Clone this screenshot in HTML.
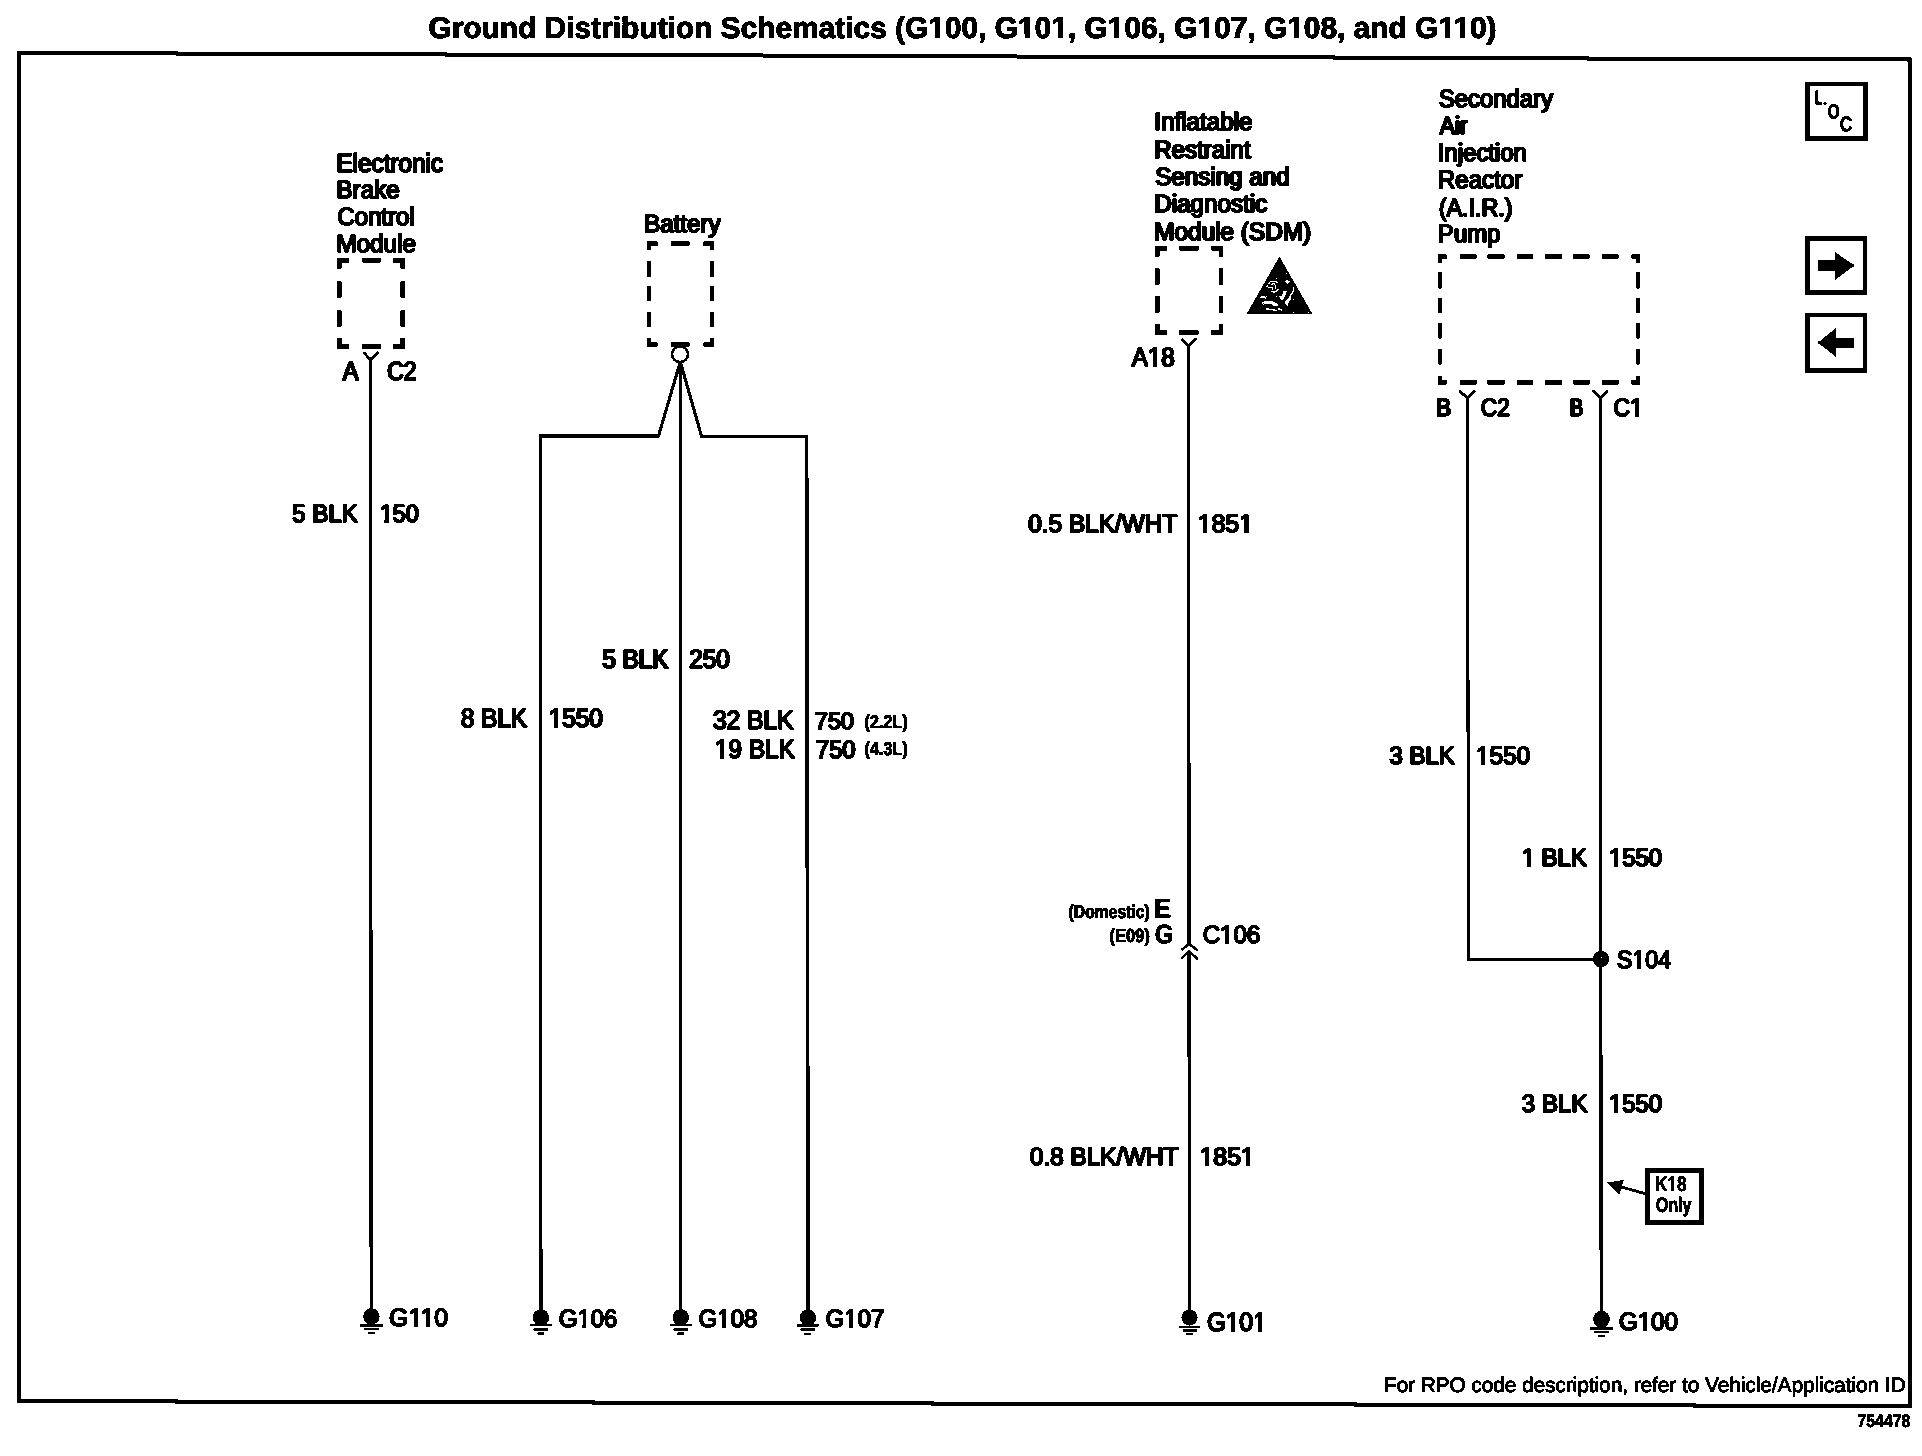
<!DOCTYPE html>
<html><head><meta charset="utf-8"><title>Ground Distribution Schematics</title>
<style>
html,body{margin:0;padding:0;background:#fff;}
body{width:1922px;height:1456px;overflow:hidden;font-family:"Liberation Sans",sans-serif;}
svg{display:block;position:absolute;left:0;top:0}
svg text{font-family:"Liberation Sans",sans-serif;fill:#000;stroke:#000;stroke-linejoin:round;text-rendering:geometricPrecision;}
</style></head><body>
<svg width="1922" height="1456" viewBox="0 0 1922 1456">
<defs><filter id="bw" x="0" y="0" width="1922" height="1456" filterUnits="userSpaceOnUse" color-interpolation-filters="sRGB">
<feColorMatrix type="matrix" values="0.33 0.34 0.33 0 0  0.33 0.34 0.33 0 0  0.33 0.34 0.33 0 0  0 0 0 1 0"/>
<feComponentTransfer><feFuncR type="discrete" tableValues="0 1"/><feFuncG type="discrete" tableValues="0 1"/><feFuncB type="discrete" tableValues="0 1"/></feComponentTransfer>
</filter></defs>
<rect x="0" y="0" width="1922" height="1456" fill="#fff" stroke="none"/>
<g filter="url(#bw)" stroke="#000">
<rect x="0" y="0" width="1922" height="1456" fill="#fff" stroke="none"/>
<path d="M19 53 L1909.6 59.6 L1909.9 1406 L19 1401 Z" stroke-width="4" fill="none" stroke-linejoin="miter"/>
<g font-weight="bold" font-size="30" stroke-width="0.5"><text x="428.25" y="38.00" textLength="1068.08" lengthAdjust="spacingAndGlyphs">Ground Distribution Schematics (G100, G101, G106, G107, G108, and G110)</text><text x="428.65" y="38.00" textLength="1068.08" lengthAdjust="spacingAndGlyphs">Ground Distribution Schematics (G100, G101, G106, G107, G108, and G110)</text></g><rect x="929.39" y="34.25" width="5.48" height="4.70" fill="#fff" stroke="none"/><rect x="939.81" y="34.25" width="5.18" height="4.70" fill="#fff" stroke="none"/><rect x="1019.12" y="34.25" width="5.48" height="4.70" fill="#fff" stroke="none"/><rect x="1029.53" y="34.25" width="5.18" height="4.70" fill="#fff" stroke="none"/><rect x="1052.36" y="34.25" width="5.48" height="4.70" fill="#fff" stroke="none"/><rect x="1062.78" y="34.25" width="5.18" height="4.70" fill="#fff" stroke="none"/><rect x="1108.84" y="34.25" width="5.48" height="4.70" fill="#fff" stroke="none"/><rect x="1119.26" y="34.25" width="5.18" height="4.70" fill="#fff" stroke="none"/><rect x="1198.57" y="34.25" width="5.48" height="4.70" fill="#fff" stroke="none"/><rect x="1208.98" y="34.25" width="5.18" height="4.70" fill="#fff" stroke="none"/><rect x="1288.29" y="34.25" width="5.48" height="4.70" fill="#fff" stroke="none"/><rect x="1298.71" y="34.25" width="5.18" height="4.70" fill="#fff" stroke="none"/><rect x="1439.46" y="34.25" width="5.48" height="4.70" fill="#fff" stroke="none"/><rect x="1449.87" y="34.25" width="5.18" height="4.70" fill="#fff" stroke="none"/><rect x="1454.43" y="34.25" width="5.48" height="4.70" fill="#fff" stroke="none"/><rect x="1464.85" y="34.25" width="5.18" height="4.70" fill="#fff" stroke="none"/>
<g font-size="26.45" stroke-width="1.3"><text x="336.01" y="172.00" textLength="106.64" lengthAdjust="spacingAndGlyphs">Electronic</text><text x="336.91" y="172.00" textLength="106.64" lengthAdjust="spacingAndGlyphs">Electronic</text></g>
<g font-size="25.0" stroke-width="1.3"><text x="335.91" y="198.00" textLength="63.32" lengthAdjust="spacingAndGlyphs">Brake</text><text x="336.81" y="198.00" textLength="63.32" lengthAdjust="spacingAndGlyphs">Brake</text></g>
<g font-size="25.0" stroke-width="1.3"><text x="336.89" y="225.00" textLength="77.25" lengthAdjust="spacingAndGlyphs">Control</text><text x="337.79" y="225.00" textLength="77.25" lengthAdjust="spacingAndGlyphs">Control</text></g>
<g font-size="25.0" stroke-width="1.3"><text x="335.91" y="252.00" textLength="79.62" lengthAdjust="spacingAndGlyphs">Module</text><text x="336.81" y="252.00" textLength="79.62" lengthAdjust="spacingAndGlyphs">Module</text></g>
<rect x="337.00" y="258.00" width="12.00" height="4.60" fill="#000" stroke="none"/>
<rect x="337.00" y="258.00" width="4.50" height="10.80" fill="#000" stroke="none"/>
<rect x="337.00" y="344.20" width="12.00" height="4.60" fill="#000" stroke="none"/>
<rect x="337.00" y="338.00" width="4.50" height="10.80" fill="#000" stroke="none"/>
<rect x="393.00" y="258.00" width="12.00" height="4.60" fill="#000" stroke="none"/>
<rect x="400.50" y="258.00" width="4.50" height="10.80" fill="#000" stroke="none"/>
<rect x="393.00" y="344.20" width="12.00" height="4.60" fill="#000" stroke="none"/>
<rect x="400.50" y="338.00" width="4.50" height="10.80" fill="#000" stroke="none"/>
<rect x="362.20" y="258.00" width="18.60" height="4.60" fill="#000" stroke="none"/>
<rect x="362.20" y="344.20" width="18.60" height="4.60" fill="#000" stroke="none"/>
<rect x="337.00" y="281.20" width="4.50" height="16.60" fill="#000" stroke="none"/>
<rect x="400.50" y="281.20" width="4.50" height="16.60" fill="#000" stroke="none"/>
<rect x="337.00" y="310.20" width="4.50" height="16.40" fill="#000" stroke="none"/>
<rect x="400.50" y="310.20" width="4.50" height="16.40" fill="#000" stroke="none"/>
<path d="M363.4 352.3 L370.4 359.6 L378.6 352.3" stroke-width="2.8" fill="none"/>
<line x1="370.40" y1="359.00" x2="371.20" y2="1316.00" stroke-width="3.2" stroke-linecap="butt"/>
<g font-size="26.45" stroke-width="1.3"><text x="342.35" y="380.00" textLength="15.77" lengthAdjust="spacingAndGlyphs">A</text><text x="343.25" y="380.00" textLength="15.77" lengthAdjust="spacingAndGlyphs">A</text></g>
<g font-size="26.45" stroke-width="1.3"><text x="386.78" y="380.00" textLength="29.28" lengthAdjust="spacingAndGlyphs">C2</text><text x="387.68" y="380.00" textLength="29.28" lengthAdjust="spacingAndGlyphs">C2</text></g>
<g font-size="25.0" stroke-width="1.3"><text x="291.79" y="522.00" textLength="65.55" lengthAdjust="spacingAndGlyphs">5 BLK</text><text x="292.59" y="522.00" textLength="65.55" lengthAdjust="spacingAndGlyphs">5 BLK</text></g>
<g font-size="25.0" stroke-width="1.3"><text x="379.22" y="522.00" textLength="39.18" lengthAdjust="spacingAndGlyphs">150</text><text x="380.02" y="522.00" textLength="39.18" lengthAdjust="spacingAndGlyphs">150</text></g><rect x="379.93" y="518.98" width="4.51" height="4.38" fill="#fff" stroke="none"/><rect x="388.65" y="518.98" width="4.27" height="4.38" fill="#fff" stroke="none"/>
<circle cx="371.40" cy="1316.50" r="8.2" fill="#000" stroke="none"/>
<rect x="360.10" y="1323.90" width="22.60" height="3.00" fill="#000" stroke="none"/>
<rect x="363.80" y="1328.20" width="15.20" height="2.20" fill="#000" stroke="none"/>
<rect x="368.20" y="1332.10" width="6.40" height="2.10" fill="#000" stroke="none"/>
<g font-size="25.0" stroke-width="1.3"><text x="388.65" y="1326.00" textLength="59.10" lengthAdjust="spacingAndGlyphs">G110</text><text x="389.25" y="1326.00" textLength="59.10" lengthAdjust="spacingAndGlyphs">G110</text></g><rect x="408.85" y="1322.97" width="4.76" height="4.38" fill="#fff" stroke="none"/><rect x="417.75" y="1322.97" width="4.51" height="4.38" fill="#fff" stroke="none"/><rect x="420.86" y="1322.97" width="4.76" height="4.38" fill="#fff" stroke="none"/><rect x="429.76" y="1322.97" width="4.51" height="4.38" fill="#fff" stroke="none"/>
<g font-size="25.0" stroke-width="1.3"><text x="643.72" y="232.00" textLength="76.45" lengthAdjust="spacingAndGlyphs">Battery</text><text x="644.62" y="232.00" textLength="76.45" lengthAdjust="spacingAndGlyphs">Battery</text></g>
<rect x="647.00" y="241.50" width="10.60" height="4.40" fill="#000" stroke="none"/>
<rect x="647.00" y="241.50" width="4.00" height="8.80" fill="#000" stroke="none"/>
<rect x="647.00" y="342.30" width="10.60" height="4.40" fill="#000" stroke="none"/>
<rect x="647.00" y="337.90" width="4.00" height="8.80" fill="#000" stroke="none"/>
<rect x="703.30" y="241.50" width="10.60" height="4.40" fill="#000" stroke="none"/>
<rect x="709.90" y="241.50" width="4.00" height="8.80" fill="#000" stroke="none"/>
<rect x="703.30" y="342.30" width="10.60" height="4.40" fill="#000" stroke="none"/>
<rect x="709.90" y="337.90" width="4.00" height="8.80" fill="#000" stroke="none"/>
<rect x="670.80" y="241.50" width="18.70" height="4.40" fill="#000" stroke="none"/>
<rect x="670.80" y="342.30" width="18.70" height="4.40" fill="#000" stroke="none"/>
<rect x="647.00" y="260.80" width="4.00" height="15.90" fill="#000" stroke="none"/>
<rect x="709.90" y="260.80" width="4.00" height="15.90" fill="#000" stroke="none"/>
<rect x="647.00" y="285.80" width="4.00" height="15.40" fill="#000" stroke="none"/>
<rect x="709.90" y="285.80" width="4.00" height="15.40" fill="#000" stroke="none"/>
<rect x="647.00" y="312.00" width="4.00" height="14.70" fill="#000" stroke="none"/>
<rect x="709.90" y="312.00" width="4.00" height="14.70" fill="#000" stroke="none"/>
<circle cx="680" cy="354.2" r="7.9" fill="#fff" stroke-width="2.6"/>
<line x1="680.20" y1="362.50" x2="680.70" y2="1317.00" stroke-width="3.2" stroke-linecap="butt"/>
<path d="M541 1317 L540.4 435.7 L658.5 436 L679.6 364 M681 364 L701.5 436.2 L806.6 436.6" stroke-width="3.1" fill="none" stroke-linejoin="miter"/>
<line x1="806.60" y1="435.10" x2="808.10" y2="1317.00" stroke-width="3.6" stroke-linecap="butt"/>
<g font-size="26.45" stroke-width="1.3"><text x="601.84" y="668.00" textLength="65.88" lengthAdjust="spacingAndGlyphs">5 BLK</text><text x="603.04" y="668.00" textLength="65.88" lengthAdjust="spacingAndGlyphs">5 BLK</text></g>
<g font-size="26.45" stroke-width="1.3"><text x="688.83" y="668.00" textLength="40.46" lengthAdjust="spacingAndGlyphs">250</text><text x="689.83" y="668.00" textLength="40.46" lengthAdjust="spacingAndGlyphs">250</text></g>
<g font-size="26.45" stroke-width="1.3"><text x="460.53" y="727.00" textLength="65.98" lengthAdjust="spacingAndGlyphs">8 BLK</text><text x="461.33" y="727.00" textLength="65.98" lengthAdjust="spacingAndGlyphs">8 BLK</text></g>
<g font-size="26.45" stroke-width="1.3"><text x="548.34" y="727.00" textLength="54.06" lengthAdjust="spacingAndGlyphs">1550</text><text x="549.14" y="727.00" textLength="54.06" lengthAdjust="spacingAndGlyphs">1550</text></g><rect x="549.11" y="723.87" width="4.65" height="4.48" fill="#fff" stroke="none"/><rect x="558.06" y="723.87" width="4.41" height="4.48" fill="#fff" stroke="none"/>
<g font-size="26.45" stroke-width="1.3"><text x="712.62" y="729.00" textLength="80.49" lengthAdjust="spacingAndGlyphs">32 BLK</text><text x="713.42" y="729.00" textLength="80.49" lengthAdjust="spacingAndGlyphs">32 BLK</text></g>
<g font-size="23.55" stroke-width="1.3"><text x="814.56" y="729.00" textLength="38.99" lengthAdjust="spacingAndGlyphs">750</text><text x="815.36" y="729.00" textLength="38.99" lengthAdjust="spacingAndGlyphs">750</text></g>
<g font-weight="bold" font-size="18.6" stroke-width="0.5"><text x="864.35" y="728.00" textLength="43.37" lengthAdjust="spacingAndGlyphs">(2.2L)</text><text x="864.65" y="728.00" textLength="43.37" lengthAdjust="spacingAndGlyphs">(2.2L)</text></g>
<g font-size="26.45" stroke-width="1.3"><text x="714.54" y="758.00" textLength="79.88" lengthAdjust="spacingAndGlyphs">19 BLK</text><text x="715.34" y="758.00" textLength="79.88" lengthAdjust="spacingAndGlyphs">19 BLK</text></g><rect x="715.31" y="754.87" width="4.66" height="4.48" fill="#fff" stroke="none"/><rect x="724.27" y="754.87" width="4.42" height="4.48" fill="#fff" stroke="none"/>
<g font-size="25.0" stroke-width="1.3"><text x="815.40" y="758.00" textLength="39.71" lengthAdjust="spacingAndGlyphs">750</text><text x="816.20" y="758.00" textLength="39.71" lengthAdjust="spacingAndGlyphs">750</text></g>
<g font-weight="bold" font-size="18.6" stroke-width="0.5"><text x="864.35" y="755.00" textLength="43.37" lengthAdjust="spacingAndGlyphs">(4.3L)</text><text x="864.65" y="755.00" textLength="43.37" lengthAdjust="spacingAndGlyphs">(4.3L)</text></g>
<circle cx="540.90" cy="1317.40" r="8.2" fill="#000" stroke="none"/>
<rect x="529.90" y="1324.20" width="22.00" height="2.20" fill="#000" stroke="none"/>
<rect x="533.30" y="1328.40" width="15.00" height="2.20" fill="#000" stroke="none"/>
<rect x="537.30" y="1332.50" width="6.80" height="2.20" fill="#000" stroke="none"/>
<g font-size="25.0" stroke-width="1.3"><text x="558.60" y="1327.00" textLength="58.32" lengthAdjust="spacingAndGlyphs">G106</text><text x="559.20" y="1327.00" textLength="58.32" lengthAdjust="spacingAndGlyphs">G106</text></g><rect x="577.88" y="1323.97" width="4.57" height="4.38" fill="#fff" stroke="none"/><rect x="586.49" y="1323.97" width="4.33" height="4.38" fill="#fff" stroke="none"/>
<circle cx="680.80" cy="1317.40" r="8.2" fill="#000" stroke="none"/>
<rect x="669.80" y="1324.20" width="22.00" height="2.20" fill="#000" stroke="none"/>
<rect x="673.20" y="1328.40" width="15.00" height="2.20" fill="#000" stroke="none"/>
<rect x="677.20" y="1332.50" width="6.80" height="2.20" fill="#000" stroke="none"/>
<g font-size="25.0" stroke-width="1.3"><text x="698.19" y="1327.00" textLength="58.93" lengthAdjust="spacingAndGlyphs">G108</text><text x="698.79" y="1327.00" textLength="58.93" lengthAdjust="spacingAndGlyphs">G108</text></g><rect x="717.68" y="1323.97" width="4.62" height="4.38" fill="#fff" stroke="none"/><rect x="726.37" y="1323.97" width="4.38" height="4.38" fill="#fff" stroke="none"/>
<circle cx="807.90" cy="1317.50" r="8.2" fill="#000" stroke="none"/>
<rect x="796.90" y="1324.30" width="22.00" height="2.20" fill="#000" stroke="none"/>
<rect x="800.30" y="1328.50" width="15.00" height="2.20" fill="#000" stroke="none"/>
<rect x="804.30" y="1332.60" width="6.80" height="2.20" fill="#000" stroke="none"/>
<g font-size="25.0" stroke-width="1.3"><text x="825.29" y="1327.00" textLength="58.73" lengthAdjust="spacingAndGlyphs">G107</text><text x="825.89" y="1327.00" textLength="58.73" lengthAdjust="spacingAndGlyphs">G107</text></g><rect x="844.71" y="1323.97" width="4.60" height="4.38" fill="#fff" stroke="none"/><rect x="853.38" y="1323.97" width="4.36" height="4.38" fill="#fff" stroke="none"/>
<g font-size="25.0" stroke-width="1.3"><text x="1153.71" y="130.00" textLength="98.21" lengthAdjust="spacingAndGlyphs">Inflatable</text><text x="1154.81" y="130.00" textLength="98.21" lengthAdjust="spacingAndGlyphs">Inflatable</text></g>
<g font-size="25.0" stroke-width="1.3"><text x="1153.72" y="158.00" textLength="96.37" lengthAdjust="spacingAndGlyphs">Restraint</text><text x="1154.82" y="158.00" textLength="96.37" lengthAdjust="spacingAndGlyphs">Restraint</text></g>
<g font-size="25.0" stroke-width="1.3"><text x="1154.68" y="185.00" textLength="134.44" lengthAdjust="spacingAndGlyphs">Sensing and</text><text x="1155.78" y="185.00" textLength="134.44" lengthAdjust="spacingAndGlyphs">Sensing and</text></g>
<g font-size="25.0" stroke-width="1.3"><text x="1153.71" y="212.00" textLength="113.02" lengthAdjust="spacingAndGlyphs">Diagnostic</text><text x="1154.81" y="212.00" textLength="113.02" lengthAdjust="spacingAndGlyphs">Diagnostic</text></g>
<g font-size="25.0" stroke-width="1.3"><text x="1153.70" y="240.00" textLength="156.84" lengthAdjust="spacingAndGlyphs">Module (SDM)</text><text x="1154.80" y="240.00" textLength="156.84" lengthAdjust="spacingAndGlyphs">Module (SDM)</text></g>
<rect x="1155.00" y="246.00" width="11.90" height="4.60" fill="#000" stroke="none"/>
<rect x="1155.00" y="246.00" width="4.50" height="10.90" fill="#000" stroke="none"/>
<rect x="1155.00" y="330.20" width="11.90" height="4.60" fill="#000" stroke="none"/>
<rect x="1155.00" y="323.90" width="4.50" height="10.90" fill="#000" stroke="none"/>
<rect x="1211.20" y="246.00" width="11.90" height="4.60" fill="#000" stroke="none"/>
<rect x="1218.60" y="246.00" width="4.50" height="10.90" fill="#000" stroke="none"/>
<rect x="1211.20" y="330.20" width="11.90" height="4.60" fill="#000" stroke="none"/>
<rect x="1218.60" y="323.90" width="4.50" height="10.90" fill="#000" stroke="none"/>
<rect x="1179.20" y="246.00" width="19.40" height="4.60" fill="#000" stroke="none"/>
<rect x="1179.20" y="330.20" width="19.40" height="4.60" fill="#000" stroke="none"/>
<rect x="1155.00" y="268.10" width="4.50" height="16.70" fill="#000" stroke="none"/>
<rect x="1218.60" y="268.10" width="4.50" height="16.70" fill="#000" stroke="none"/>
<rect x="1155.00" y="296.00" width="4.50" height="16.80" fill="#000" stroke="none"/>
<rect x="1218.60" y="296.00" width="4.50" height="16.80" fill="#000" stroke="none"/>
<path d="M1181.2 339 L1188.7 345.8 L1196.8 338.3" stroke-width="2.8" fill="none"/>
<line x1="1188.60" y1="345.00" x2="1189.00" y2="944.50" stroke-width="3.2" stroke-linecap="butt"/>
<line x1="1189.00" y1="951.50" x2="1189.05" y2="1010.00" stroke-width="3.8" stroke-linecap="butt"/>
<line x1="1189.05" y1="1010.00" x2="1189.60" y2="1318.00" stroke-width="3.2" stroke-linecap="butt"/>
<g font-size="26.45" stroke-width="1.3"><text x="1131.45" y="366.00" textLength="42.64" lengthAdjust="spacingAndGlyphs">A18</text><text x="1132.35" y="366.00" textLength="42.64" lengthAdjust="spacingAndGlyphs">A18</text></g><rect x="1148.18" y="362.87" width="4.60" height="4.48" fill="#fff" stroke="none"/><rect x="1157.13" y="362.87" width="4.36" height="4.48" fill="#fff" stroke="none"/>
<path d="M1279.4 256.6 L1312.5 314 L1246.6 314 Z" stroke-width="0" fill="#000"/>
<polyline points="1268.85,283.65 1270.29,281.49 1275.82,281.49 1277.02,282.79" fill="none" stroke="#fff" stroke-linecap="round" stroke-linejoin="round" stroke-width="1.25"/>
<polygon points="1266.11,286.39 1268.46,283.89 1268.46,287.98" fill="#fff" stroke="none"/>
<polyline points="1271.49,284.52 1273.65,283.51 1275.48,285.58 1275.82,288.08" fill="none" stroke="#fff" stroke-linecap="round" stroke-linejoin="round" stroke-width="1.25"/>
<polyline points="1269.18,287.12 1272.69,287.36 1272.69,289.90" fill="none" stroke="#fff" stroke-linecap="round" stroke-linejoin="round" stroke-width="1.25"/>
<polyline points="1271.15,291.35 1274.62,292.31 1276.78,290.62 1277.98,289.52" fill="none" stroke="#fff" stroke-linecap="round" stroke-linejoin="round" stroke-width="1.3"/>
<polygon points="1284.95,282.12 1286.88,279.90 1290.00,281.49 1287.60,284.04" fill="#fff" stroke="none"/>
<circle cx="1286.39" cy="273.56" r="0.75" fill="#fff" stroke="none"/>
<circle cx="1276.44" cy="278.51" r="0.75" fill="#fff" stroke="none"/>
<circle cx="1276.44" cy="296.54" r="0.75" fill="#fff" stroke="none"/>
<circle cx="1293.46" cy="299.42" r="0.75" fill="#fff" stroke="none"/>
<circle cx="1293.46" cy="312.50" r="0.75" fill="#fff" stroke="none"/>
<circle cx="1308.51" cy="312.50" r="0.75" fill="#fff" stroke="none"/>
<circle cx="1266.44" cy="296.44" r="0.75" fill="#fff" stroke="none"/>
<polygon points="1283.27,291.01 1287.21,291.01 1282.88,300.10 1281.11,300.10 1279.04,296.44 1281.83,295.67" fill="#fff" stroke="none"/>
<polyline points="1293.61,287.12 1293.61,290.38 1292.02,293.27 1290.58,295.67" fill="none" stroke="#fff" stroke-linecap="round" stroke-linejoin="round" stroke-width="1.3"/>
<polygon points="1290.72,294.95 1290.58,300.00 1289.04,301.06 1287.60,306.15 1285.10,303.37 1285.10,301.44" fill="#fff" stroke="none"/>
<polygon points="1259.86,297.69 1261.39,295.82 1263.89,295.82 1266.06,298.08 1267.07,301.06 1265.38,298.65 1263.94,297.98 1260.10,298.17" fill="#fff" stroke="none"/>
<polygon points="1262.02,302.16 1265.00,300.87 1271.73,301.11 1277.60,303.85 1278.08,306.11 1274.13,306.11 1271.73,304.18 1264.04,303.94 1263.56,304.90 1262.02,303.46" fill="#fff" stroke="none"/>
<circle cx="1263.41" cy="303.27" r="0.7" fill="#000" stroke="none"/>
<polygon points="1265.87,308.17 1267.88,307.84 1268.85,308.85 1273.65,309.09 1277.12,310.05 1277.12,311.15 1274.13,311.15 1273.17,310.19 1266.11,310.19" fill="#fff" stroke="none"/>
<polyline points="1278.08,309.23 1280.87,309.23 1281.97,310.72" fill="none" stroke="#fff" stroke-linecap="round" stroke-linejoin="round" stroke-width="1.25"/>
<g font-size="25.0" stroke-width="1.3"><text x="1027.85" y="532.00" textLength="148.96" lengthAdjust="spacingAndGlyphs">0.5 BLK/WHT</text><text x="1028.65" y="532.00" textLength="148.96" lengthAdjust="spacingAndGlyphs">0.5 BLK/WHT</text></g>
<g font-size="25.0" stroke-width="1.3"><text x="1197.50" y="532.00" textLength="55.10" lengthAdjust="spacingAndGlyphs">1851</text><text x="1198.30" y="532.00" textLength="55.10" lengthAdjust="spacingAndGlyphs">1851</text></g><rect x="1198.30" y="528.98" width="4.73" height="4.38" fill="#fff" stroke="none"/><rect x="1207.37" y="528.98" width="4.49" height="4.38" fill="#fff" stroke="none"/><rect x="1239.63" y="528.98" width="4.73" height="4.38" fill="#fff" stroke="none"/><rect x="1248.70" y="528.98" width="4.49" height="4.38" fill="#fff" stroke="none"/>
<g font-weight="bold" font-size="18.6" stroke-width="0.5"><text x="1068.35" y="918.00" textLength="81.26" lengthAdjust="spacingAndGlyphs">(Domestic)</text><text x="1068.65" y="918.00" textLength="81.26" lengthAdjust="spacingAndGlyphs">(Domestic)</text></g>
<g font-size="25.1" stroke-width="1.3"><text x="1153.79" y="917.00" textLength="15.54" lengthAdjust="spacingAndGlyphs">E</text><text x="1155.39" y="917.00" textLength="15.54" lengthAdjust="spacingAndGlyphs">E</text></g>
<g font-weight="bold" font-size="18.9" stroke-width="0.5"><text x="1109.35" y="942.00" textLength="40.35" lengthAdjust="spacingAndGlyphs">(E09)</text><text x="1109.65" y="942.00" textLength="40.35" lengthAdjust="spacingAndGlyphs">(E09)</text></g>
<g font-size="26" stroke-width="1.3"><text x="1154.77" y="943.00" textLength="17.75" lengthAdjust="spacingAndGlyphs">G</text><text x="1155.77" y="943.00" textLength="17.75" lengthAdjust="spacingAndGlyphs">G</text></g>
<g font-size="25.0" stroke-width="1.3"><text x="1202.49" y="943.00" textLength="57.43" lengthAdjust="spacingAndGlyphs">C106</text><text x="1203.09" y="943.00" textLength="57.43" lengthAdjust="spacingAndGlyphs">C106</text></g><rect x="1220.59" y="939.98" width="4.60" height="4.38" fill="#fff" stroke="none"/><rect x="1229.26" y="939.98" width="4.36" height="4.38" fill="#fff" stroke="none"/>
<path d="M1181.3 950.2 L1189 943.7 L1197.8 950.5" stroke-width="2.6" fill="none"/>
<path d="M1181.3 958.9 L1188.9 951.2 L1197.8 959.2" stroke-width="2.6" fill="none"/>
<g font-size="25.0" stroke-width="1.3"><text x="1029.45" y="1165.00" textLength="148.56" lengthAdjust="spacingAndGlyphs">0.8 BLK/WHT</text><text x="1030.25" y="1165.00" textLength="148.56" lengthAdjust="spacingAndGlyphs">0.8 BLK/WHT</text></g>
<g font-size="25.0" stroke-width="1.3"><text x="1199.10" y="1165.00" textLength="55.10" lengthAdjust="spacingAndGlyphs">1851</text><text x="1199.90" y="1165.00" textLength="55.10" lengthAdjust="spacingAndGlyphs">1851</text></g><rect x="1199.90" y="1161.97" width="4.73" height="4.38" fill="#fff" stroke="none"/><rect x="1208.97" y="1161.97" width="4.49" height="4.38" fill="#fff" stroke="none"/><rect x="1241.23" y="1161.97" width="4.73" height="4.38" fill="#fff" stroke="none"/><rect x="1250.30" y="1161.97" width="4.49" height="4.38" fill="#fff" stroke="none"/>
<circle cx="1189.50" cy="1317.60" r="8.0" fill="#000" stroke="none"/>
<rect x="1178.70" y="1325.80" width="21.40" height="1.70" fill="#000" stroke="none"/>
<rect x="1182.80" y="1329.00" width="14.10" height="3.00" fill="#000" stroke="none"/>
<rect x="1186.00" y="1333.10" width="7.10" height="1.90" fill="#000" stroke="none"/>
<g font-size="26.45" stroke-width="1.3"><text x="1206.63" y="1331.00" textLength="59.58" lengthAdjust="spacingAndGlyphs">G101</text><text x="1207.23" y="1331.00" textLength="59.58" lengthAdjust="spacingAndGlyphs">G101</text></g><rect x="1226.35" y="1327.87" width="4.66" height="4.48" fill="#fff" stroke="none"/><rect x="1235.11" y="1327.87" width="4.42" height="4.48" fill="#fff" stroke="none"/><rect x="1253.44" y="1327.87" width="4.66" height="4.48" fill="#fff" stroke="none"/><rect x="1262.20" y="1327.87" width="4.42" height="4.48" fill="#fff" stroke="none"/>
<g font-size="25.0" stroke-width="1.3"><text x="1438.40" y="107.00" textLength="114.08" lengthAdjust="spacingAndGlyphs">Secondary</text><text x="1439.30" y="107.00" textLength="114.08" lengthAdjust="spacingAndGlyphs">Secondary</text></g>
<g font-size="25.0" stroke-width="1.3"><text x="1439.35" y="134.00" textLength="27.80" lengthAdjust="spacingAndGlyphs">Air</text><text x="1440.25" y="134.00" textLength="27.80" lengthAdjust="spacingAndGlyphs">Air</text></g>
<g font-size="25.0" stroke-width="1.3"><text x="1437.44" y="161.00" textLength="89.08" lengthAdjust="spacingAndGlyphs">Injection</text><text x="1438.34" y="161.00" textLength="89.08" lengthAdjust="spacingAndGlyphs">Injection</text></g>
<g font-size="25.0" stroke-width="1.3"><text x="1437.42" y="188.00" textLength="84.34" lengthAdjust="spacingAndGlyphs">Reactor</text><text x="1438.32" y="188.00" textLength="84.34" lengthAdjust="spacingAndGlyphs">Reactor</text></g>
<g font-size="25.0" stroke-width="1.3"><text x="1438.42" y="216.00" textLength="73.66" lengthAdjust="spacingAndGlyphs">(A.I.R.)</text><text x="1439.32" y="216.00" textLength="73.66" lengthAdjust="spacingAndGlyphs">(A.I.R.)</text></g>
<g font-size="25.0" stroke-width="1.3"><text x="1437.43" y="242.00" textLength="62.58" lengthAdjust="spacingAndGlyphs">Pump</text><text x="1438.33" y="242.00" textLength="62.58" lengthAdjust="spacingAndGlyphs">Pump</text></g>
<rect x="1438.20" y="254.30" width="8.50" height="4.50" fill="#000" stroke="none"/>
<rect x="1438.20" y="254.30" width="3.70" height="8.60" fill="#000" stroke="none"/>
<rect x="1438.20" y="380.00" width="8.50" height="4.50" fill="#000" stroke="none"/>
<rect x="1438.20" y="375.90" width="3.70" height="8.60" fill="#000" stroke="none"/>
<rect x="1631.40" y="254.30" width="8.50" height="4.50" fill="#000" stroke="none"/>
<rect x="1636.20" y="254.30" width="3.70" height="8.60" fill="#000" stroke="none"/>
<rect x="1631.40" y="380.00" width="8.50" height="4.50" fill="#000" stroke="none"/>
<rect x="1636.20" y="375.90" width="3.70" height="8.60" fill="#000" stroke="none"/>
<rect x="1460.00" y="254.30" width="16.50" height="4.50" fill="#000" stroke="none"/>
<rect x="1460.00" y="380.00" width="16.50" height="4.50" fill="#000" stroke="none"/>
<rect x="1487.40" y="254.30" width="17.20" height="4.50" fill="#000" stroke="none"/>
<rect x="1487.40" y="380.00" width="17.20" height="4.50" fill="#000" stroke="none"/>
<rect x="1516.60" y="254.30" width="16.60" height="4.50" fill="#000" stroke="none"/>
<rect x="1516.60" y="380.00" width="16.60" height="4.50" fill="#000" stroke="none"/>
<rect x="1544.80" y="254.30" width="17.20" height="4.50" fill="#000" stroke="none"/>
<rect x="1544.80" y="380.00" width="17.20" height="4.50" fill="#000" stroke="none"/>
<rect x="1573.20" y="254.30" width="16.40" height="4.50" fill="#000" stroke="none"/>
<rect x="1573.20" y="380.00" width="16.40" height="4.50" fill="#000" stroke="none"/>
<rect x="1601.80" y="254.30" width="16.70" height="4.50" fill="#000" stroke="none"/>
<rect x="1601.80" y="380.00" width="16.70" height="4.50" fill="#000" stroke="none"/>
<rect x="1438.20" y="272.10" width="3.70" height="16.40" fill="#000" stroke="none"/>
<rect x="1636.20" y="272.10" width="3.70" height="16.40" fill="#000" stroke="none"/>
<rect x="1438.20" y="297.90" width="3.70" height="14.80" fill="#000" stroke="none"/>
<rect x="1636.20" y="297.90" width="3.70" height="14.80" fill="#000" stroke="none"/>
<rect x="1438.20" y="322.90" width="3.70" height="15.60" fill="#000" stroke="none"/>
<rect x="1636.20" y="322.90" width="3.70" height="15.60" fill="#000" stroke="none"/>
<rect x="1438.20" y="348.60" width="3.70" height="15.90" fill="#000" stroke="none"/>
<rect x="1636.20" y="348.60" width="3.70" height="15.90" fill="#000" stroke="none"/>
<path d="M1459.2 390.6 L1467.4 398 L1474.9 390.6" stroke-width="2.8" fill="none"/>
<path d="M1592.5 390.6 L1600.3 398 L1607.7 390.6" stroke-width="2.8" fill="none"/>
<path d="M1467.4 397.5 L1468.5 959.6 L1600.6 959.6" stroke-width="3.1" fill="none"/>
<line x1="1600.30" y1="397.50" x2="1600.60" y2="960.00" stroke-width="3.1" stroke-linecap="butt"/>
<line x1="1600.60" y1="958.00" x2="1600.90" y2="1065.00" stroke-width="3.2" stroke-linecap="butt"/>
<line x1="1600.90" y1="1065.00" x2="1601.30" y2="1250.00" stroke-width="3.8" stroke-linecap="butt"/>
<line x1="1601.30" y1="1250.00" x2="1601.50" y2="1319.00" stroke-width="3.1" stroke-linecap="butt"/>
<g font-size="25.0" stroke-width="1.3"><text x="1435.81" y="416.00" textLength="14.53" lengthAdjust="spacingAndGlyphs">B</text><text x="1437.11" y="416.00" textLength="14.53" lengthAdjust="spacingAndGlyphs">B</text></g>
<g font-size="25.0" stroke-width="1.3"><text x="1480.13" y="416.00" textLength="29.24" lengthAdjust="spacingAndGlyphs">C2</text><text x="1481.03" y="416.00" textLength="29.24" lengthAdjust="spacingAndGlyphs">C2</text></g>
<g font-size="25.0" stroke-width="1.3"><text x="1569.25" y="416.00" textLength="13.34" lengthAdjust="spacingAndGlyphs">B</text><text x="1570.55" y="416.00" textLength="13.34" lengthAdjust="spacingAndGlyphs">B</text></g>
<g font-size="25.0" stroke-width="1.3"><text x="1612.93" y="416.00" textLength="29.38" lengthAdjust="spacingAndGlyphs">C1</text><text x="1613.83" y="416.00" textLength="29.38" lengthAdjust="spacingAndGlyphs">C1</text></g><rect x="1630.20" y="412.98" width="4.42" height="4.37" fill="#fff" stroke="none"/><rect x="1638.90" y="412.98" width="4.19" height="4.37" fill="#fff" stroke="none"/>
<g font-size="25.0" stroke-width="1.3"><text x="1388.95" y="764.00" textLength="65.39" lengthAdjust="spacingAndGlyphs">3 BLK</text><text x="1389.75" y="764.00" textLength="65.39" lengthAdjust="spacingAndGlyphs">3 BLK</text></g>
<g font-size="25.0" stroke-width="1.3"><text x="1475.75" y="764.00" textLength="53.88" lengthAdjust="spacingAndGlyphs">1550</text><text x="1476.55" y="764.00" textLength="53.88" lengthAdjust="spacingAndGlyphs">1550</text></g><rect x="1476.52" y="760.98" width="4.64" height="4.38" fill="#fff" stroke="none"/><rect x="1485.43" y="760.98" width="4.40" height="4.38" fill="#fff" stroke="none"/>
<g font-size="25.0" stroke-width="1.3"><text x="1521.18" y="866.00" textLength="65.16" lengthAdjust="spacingAndGlyphs">1 BLK</text><text x="1521.98" y="866.00" textLength="65.16" lengthAdjust="spacingAndGlyphs">1 BLK</text></g><rect x="1521.92" y="862.98" width="4.59" height="4.38" fill="#fff" stroke="none"/><rect x="1530.76" y="862.98" width="4.35" height="4.38" fill="#fff" stroke="none"/>
<g font-size="25.0" stroke-width="1.3"><text x="1608.59" y="866.00" textLength="53.03" lengthAdjust="spacingAndGlyphs">1550</text><text x="1609.39" y="866.00" textLength="53.03" lengthAdjust="spacingAndGlyphs">1550</text></g><rect x="1609.32" y="862.98" width="4.57" height="4.38" fill="#fff" stroke="none"/><rect x="1618.14" y="862.98" width="4.33" height="4.38" fill="#fff" stroke="none"/>
<circle cx="1600.9" cy="959.1" r="8.2" fill="#000" stroke="none"/>
<rect x="1600.9" y="957" width="1" height="1" fill="#fff" stroke="none"/>
<g font-size="25.0" stroke-width="1.3"><text x="1616.62" y="968.00" textLength="54.24" lengthAdjust="spacingAndGlyphs">S104</text><text x="1617.22" y="968.00" textLength="54.24" lengthAdjust="spacingAndGlyphs">S104</text></g><rect x="1632.80" y="964.98" width="4.46" height="4.38" fill="#fff" stroke="none"/><rect x="1641.26" y="964.98" width="4.23" height="4.38" fill="#fff" stroke="none"/>
<g font-size="25.0" stroke-width="1.3"><text x="1521.25" y="1112.00" textLength="65.79" lengthAdjust="spacingAndGlyphs">3 BLK</text><text x="1522.05" y="1112.00" textLength="65.79" lengthAdjust="spacingAndGlyphs">3 BLK</text></g>
<g font-size="25.0" stroke-width="1.3"><text x="1608.37" y="1112.00" textLength="53.34" lengthAdjust="spacingAndGlyphs">1550</text><text x="1609.17" y="1112.00" textLength="53.34" lengthAdjust="spacingAndGlyphs">1550</text></g><rect x="1609.12" y="1108.97" width="4.60" height="4.38" fill="#fff" stroke="none"/><rect x="1617.97" y="1108.97" width="4.36" height="4.38" fill="#fff" stroke="none"/>
<rect x="1647.4" y="1170.5" width="54.2" height="52.1" fill="#fff" stroke-width="4.8"/>
<g font-weight="bold" font-size="21" stroke-width="0.3"><text x="1654.93" y="1191.00" textLength="31.45" lengthAdjust="spacingAndGlyphs">K18</text><text x="1655.23" y="1191.00" textLength="31.45" lengthAdjust="spacingAndGlyphs">K18</text></g><rect x="1667.88" y="1188.25" width="3.31" height="3.60" fill="#fff" stroke="none"/><rect x="1674.11" y="1188.25" width="3.14" height="3.60" fill="#fff" stroke="none"/>
<g font-weight="bold" font-size="21" stroke-width="0.3"><text x="1655.75" y="1212.00" textLength="35.46" lengthAdjust="spacingAndGlyphs">Only</text><text x="1656.05" y="1212.00" textLength="35.46" lengthAdjust="spacingAndGlyphs">Only</text></g>
<path d="M1645 1193.6 L1620 1186.6" stroke-width="3" fill="none"/>
<path d="M1606.9 1182.5 L1623.8 1180 L1619.4 1195 Z" stroke-width="0" fill="#000"/>
<circle cx="1601.50" cy="1319.30" r="8.4" fill="#000" stroke="none"/>
<rect x="1590.20" y="1326.70" width="22.60" height="3.00" fill="#000" stroke="none"/>
<rect x="1593.90" y="1331.00" width="15.20" height="2.20" fill="#000" stroke="none"/>
<rect x="1598.30" y="1334.90" width="6.40" height="2.10" fill="#000" stroke="none"/>
<g font-size="25.0" stroke-width="1.3"><text x="1618.58" y="1330.00" textLength="59.14" lengthAdjust="spacingAndGlyphs">G100</text><text x="1619.18" y="1330.00" textLength="59.14" lengthAdjust="spacingAndGlyphs">G100</text></g><rect x="1638.15" y="1326.97" width="4.63" height="4.38" fill="#fff" stroke="none"/><rect x="1646.86" y="1326.97" width="4.39" height="4.38" fill="#fff" stroke="none"/>
<rect x="1805.00" y="82.00" width="63.00" height="59.00" fill="#000" stroke="none"/>
<rect x="1809.90" y="85.90" width="53.20" height="50.20" fill="#fff" stroke="none"/>
<g font-size="19.5" stroke-width="1.3"><text x="1815.10" y="104.00" textLength="5.96" lengthAdjust="spacingAndGlyphs">L</text><text x="1816.10" y="104.00" textLength="5.96" lengthAdjust="spacingAndGlyphs">L</text></g>
<circle cx="1825" cy="103.4" r="1.5" fill="#000" stroke="none"/>
<g font-size="19.5" stroke-width="1.3"><text x="1827.65" y="118.00" textLength="11.33" lengthAdjust="spacingAndGlyphs">O</text><text x="1828.15" y="118.00" textLength="11.33" lengthAdjust="spacingAndGlyphs">O</text></g>
<g font-size="20.5" stroke-width="1.3"><text x="1839.84" y="131.00" textLength="11.95" lengthAdjust="spacingAndGlyphs">C</text><text x="1840.34" y="131.00" textLength="11.95" lengthAdjust="spacingAndGlyphs">C</text></g>
<rect x="1805.00" y="236.10" width="62.40" height="58.80" fill="#000" stroke="none"/>
<rect x="1809.90" y="240.90" width="53.20" height="49.10" fill="#fff" stroke="none"/>
<path d="M1818 260 L1835 260 L1835 252 L1852.6 264.2 L1854 264.2 L1854 267 L1852.2 267 L1835 280 L1835 271 L1818 271 Z" stroke-width="0" fill="#000"/>
<rect x="1805.00" y="313.10" width="62.20" height="59.70" fill="#000" stroke="none"/>
<rect x="1809.90" y="316.90" width="53.20" height="51.10" fill="#fff" stroke="none"/>
<path d="M1854 338 L1836 338 L1836 328 L1819.6 341.2 L1818 341.2 L1818 344 L1819.6 344 L1836 357 L1836 348 L1854 348 Z" stroke-width="0" fill="#000"/>
<g font-size="21" stroke-width="0.5"><text x="1383.76" y="1392.00" textLength="521.65" lengthAdjust="spacingAndGlyphs">For RPO code description, refer to Vehicle/Application ID</text><text x="1384.06" y="1392.00" textLength="521.65" lengthAdjust="spacingAndGlyphs">For RPO code description, refer to Vehicle/Application ID</text></g>
<g font-weight="bold" font-size="18" stroke-width="0.3"><text x="1857.15" y="1427.00" textLength="53.01" lengthAdjust="spacingAndGlyphs">754478</text><text x="1857.45" y="1427.00" textLength="53.01" lengthAdjust="spacingAndGlyphs">754478</text></g>
</g>
</svg>
</body></html>
